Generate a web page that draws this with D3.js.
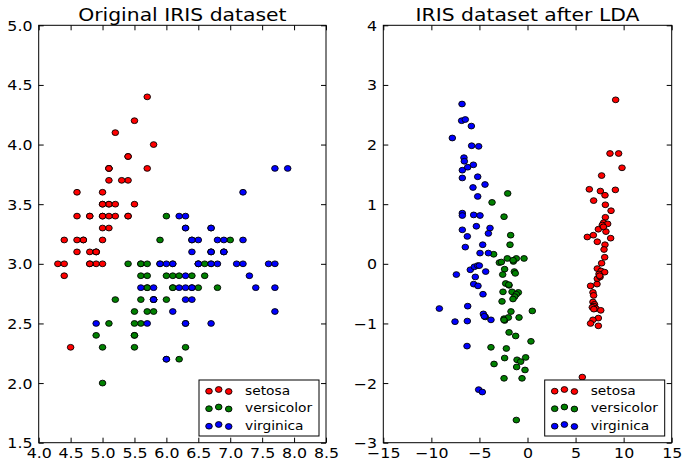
<!DOCTYPE html>
<html>
<head>
<meta charset="utf-8">
<script src="https://cdn.jsdelivr.net/npm/d3@7"></script>
<style>
  body { margin: 0; background: #fff; }
  text { font-family: "DejaVu Sans", sans-serif; fill: #000; }
</style>
</head>
<body>
<div id="main"></div>
<script>
// class names + colours (matplotlib r, g, b)
const targetNames = ["setosa", "versicolor", "virginica"];
const classColors = ["#ff0000", "#008000", "#0000ff"];

// sepal length / sepal width
const sepalSetosa = [[5.1,3.5],[4.9,3.0],[4.7,3.2],[4.6,3.1],[5.0,3.6],[5.4,3.9],[4.6,3.4],[5.0,3.4],[4.4,2.9],[4.9,3.1],
  [5.4,3.7],[4.8,3.4],[4.8,3.0],[4.3,3.0],[5.8,4.0],[5.7,4.4],[5.4,3.9],[5.1,3.5],[5.7,3.8],[5.1,3.8],
  [5.4,3.4],[5.1,3.7],[4.6,3.6],[5.1,3.3],[4.8,3.4],[5.0,3.0],[5.0,3.4],[5.2,3.5],[5.2,3.4],[4.7,3.2],
  [4.8,3.1],[5.4,3.4],[5.2,4.1],[5.5,4.2],[4.9,3.1],[5.0,3.2],[5.5,3.5],[4.9,3.1],[4.4,3.0],[5.1,3.4],
  [5.0,3.5],[4.5,2.3],[4.4,3.2],[5.0,3.5],[5.1,3.8],[4.8,3.0],[5.1,3.8],[4.6,3.2],[5.3,3.7],[5.0,3.3]];
const sepalVersicolor = [[7.0,3.2],[6.4,3.2],[6.9,3.1],[5.5,2.3],[6.5,2.8],[5.7,2.8],[6.3,3.3],[4.9,2.4],[6.6,2.9],[5.2,2.7],
  [5.0,2.0],[5.9,3.0],[6.0,2.2],[6.1,2.9],[5.6,2.9],[6.7,3.1],[5.6,3.0],[5.8,2.7],[6.2,2.2],[5.6,2.5],
  [5.9,3.2],[6.1,2.8],[6.3,2.5],[6.1,2.8],[6.4,2.9],[6.6,3.0],[6.8,2.8],[6.7,3.0],[6.0,2.9],[5.7,2.6],
  [5.5,2.4],[5.5,2.4],[5.8,2.7],[6.0,2.7],[5.4,3.0],[6.0,3.4],[6.7,3.1],[6.3,2.3],[5.6,3.0],[5.5,2.5],
  [5.5,2.6],[6.1,3.0],[5.8,2.6],[5.0,2.3],[5.6,2.7],[5.7,3.0],[5.7,2.9],[6.2,2.9],[5.1,2.5],[5.7,2.8]];
const sepalVirginica = [[6.3,3.3],[5.8,2.7],[7.1,3.0],[6.3,2.9],[6.5,3.0],[7.6,3.0],[4.9,2.5],[7.3,2.9],[6.7,2.5],[7.2,3.6],
  [6.5,3.2],[6.4,2.7],[6.8,3.0],[5.7,2.5],[5.8,2.8],[6.4,3.2],[6.5,3.0],[7.7,3.8],[7.7,2.6],[6.0,2.2],
  [6.9,3.2],[5.6,2.8],[7.7,2.8],[6.3,2.7],[6.7,3.3],[7.2,3.2],[6.2,2.8],[6.1,3.0],[6.4,2.8],[7.2,3.0],
  [7.4,2.8],[7.9,3.8],[6.4,2.8],[6.3,2.8],[6.1,2.6],[7.7,3.0],[6.3,3.4],[6.4,3.1],[6.0,3.0],[6.9,3.1],
  [6.7,3.1],[6.9,3.1],[5.8,2.7],[6.8,3.2],[6.7,3.3],[6.7,3.0],[6.3,2.5],[6.5,3.0],[6.2,3.4],[5.9,3.0]];

// LDA components
const ldaSetosa = [[9.17,2.75],[8.58,1.85],[9.48,1.85],[9.83,1.61],[7.71,1.48],[6.43,1.25],[7.58,1.22],[9.14,1.24],[8.06,1.15],[6.88,1.06],
  [8.10,0.99],[8.69,0.89],[8.10,0.78],[7.92,0.69],[8.34,0.67],[7.37,0.58],[7.78,0.65],[8.16,0.54],[6.22,0.45],[6.85,0.48],
  [8.65,0.43],[7.26,0.37],[8.06,0.32],[7.96,0.24],[8.03,0.11],[7.71,0.01],[7.26,-0.08],[7.65,-0.12],[8.03,-0.14],[7.44,-0.17],
  [7.26,-0.25],[7.55,-0.22],[7.23,-0.34],[6.56,-0.37],[6.81,-0.48],[6.88,-0.53],[6.81,-0.64],[6.97,-0.68],[6.92,-0.71],[7.13,-0.75],
  [7.62,-0.78],[6.74,-0.73],[7.37,-0.91],[6.81,-0.94],[6.56,-1.00],[7.37,-1.04],[5.70,-1.90],[7.50,-0.20],[7.90,0.62],[6.90,-0.76]];
const ldaVersicolor = [[-2.06,1.18],[-3.69,1.03],[-2.44,0.79],[-1.75,0.48],[-1.82,0.32],[-3.52,0.16],[-2.93,0.02],[-2.72,0.03],[-2.10,0.09],[-1.47,0.04],
  [-1.16,0.09],[-0.36,0.09],[-2.38,-0.09],[-2.58,-0.18],[-1.37,-0.13],[-1.27,-0.16],[-2.27,-0.33],[-1.92,-0.36],[-1.61,-0.47],[-0.95,-0.48],
  [-1.16,-0.51],[-1.33,-0.55],[-1.51,-0.59],[-2.55,-0.47],[-2.65,-0.63],[-1.72,-0.80],[0.50,-0.79],[-0.88,-0.90],[-2.44,-0.92],[-2.38,-0.95],
  [-1.99,-0.90],[-4.39,-0.89],[-1.92,-1.15],[-1.23,-1.21],[0.36,-1.30],[-3.80,-1.40],[-2.20,-1.42],[-3.48,-1.68],[-2.38,-1.58],[-1.09,-1.61],
  [-0.71,-1.64],[-0.19,-1.57],[-1.13,-1.73],[-0.26,-1.78],[-2.44,-1.92],[-0.57,-1.92],[-1.16,-2.62],[-2.45,-0.94],[-1.50,0.06],[-1.95,-0.35]];
const ldaVirginica = [[-6.81,2.68],[-6.85,2.40],[-6.47,2.42],[-5.84,2.31],[-7.82,2.11],[-5.81,1.98],[-5.08,1.97],[-6.61,1.78],[-6.57,1.72],[-6.78,1.57],
  [-6.22,1.62],[-5.63,1.66],[-6.78,1.44],[-5.18,1.46],[-4.42,1.33],[-5.67,1.28],[-5.18,1.13],[-6.78,0.85],[-6.78,0.81],[-5.60,0.82],
  [-4.94,0.81],[-5.32,0.63],[-3.90,0.60],[-4.07,0.51],[-6.78,0.57],[-6.26,0.46],[-6.47,0.28],[-4.66,0.32],[-4.94,0.18],[-4.07,0.18],
  [-7.40,-0.18],[-5.95,-0.10],[-5.53,-0.05],[-5.18,-0.03],[-5.01,-0.03],[-4.35,-0.13],[-5.43,-0.22],[-5.60,-0.34],[-5.15,-0.37],[-4.63,-0.51],
  [-9.17,-0.75],[-6.22,-0.71],[-4.59,-0.84],[-4.49,-0.88],[-3.80,-0.94],[-7.54,-0.97],[-6.26,-0.96],[-6.29,-1.38],[-5.08,-2.11],[-4.70,-2.15]];

const sepalXTicks = [4.0, 4.5, 5.0, 5.5, 6.0, 6.5, 7.0, 7.5, 8.0, 8.5];
const sepalYTicks = [1.5, 2.0, 2.5, 3.0, 3.5, 4.0, 4.5, 5.0];
const ldaXTicks = [-15, -10, -5, 0, 5, 10, 15];
const ldaYTicks = [-3, -2, -1, 0, 1, 2, 3, 4];

const STRETCH = 1.13;   // text is a bit wide in the reference
const TICK = 5;

const svg = d3.select("#main").append("svg")
    .attr("width", 682).attr("height", 461);
svg.append("rect").attr("width", 682).attr("height", 461).attr("fill", "#fff");

function drawPanel(opts) {
    const x = d3.scaleLinear().domain(opts.xDomain).range([opts.left, opts.right]);
    const y = d3.scaleLinear().domain(opts.yDomain).range([442.7, 25.3]);
    const g = svg.append("g");

    // points, class by class
    opts.series.forEach((pts, i) => {
        g.append("g").selectAll("ellipse")
            .data(pts).enter()
            .append("ellipse")
            .attr("cx", d => x(d[0]))
            .attr("cy", d => y(d[1]))
            .attr("rx", 3.3).attr("ry", 2.9)
            .attr("fill", classColors[i])
            .attr("stroke", "#000").attr("stroke-width", 0.9);
    });

    // inward ticks on all four sides
    const bottom = g.append("g").attr("transform", `translate(0,${y.range()[0]})`)
        .call(d3.axisBottom(x).tickValues(opts.xTicks).tickFormat(opts.fmtX).tickSizeInner(-TICK).tickSizeOuter(0));
    const left = g.append("g").attr("transform", `translate(${opts.left},0)`)
        .call(d3.axisLeft(y).tickValues(opts.yTicks).tickFormat(opts.fmtY).tickSizeInner(-TICK).tickSizeOuter(0));
    g.append("g").attr("transform", `translate(0,${y.range()[1]})`)
        .call(d3.axisTop(x).tickValues(opts.xTicks).tickFormat("").tickSizeInner(-TICK).tickSizeOuter(0));
    g.append("g").attr("transform", `translate(${opts.right},0)`)
        .call(d3.axisRight(y).tickValues(opts.yTicks).tickFormat("").tickSizeInner(-TICK).tickSizeOuter(0));
    g.selectAll(".domain").remove();
    g.selectAll(".tick line").attr("stroke", "#000").attr("stroke-width", 1);

    bottom.selectAll("text")
        .attr("y", 15).attr("dy", null)
        .attr("font-size", 14).attr("font-family", "DejaVu Sans")
        .attr("transform", `scale(${STRETCH},1)`);
    left.selectAll("text")
        .attr("x", -5.5).attr("dy", "0.36em")
        .attr("font-size", 14).attr("font-family", "DejaVu Sans")
        .attr("transform", `scale(${STRETCH},1)`);

    // frame
    g.append("rect")
        .attr("x", opts.left).attr("y", 25.3)
        .attr("width", opts.right - opts.left).attr("height", 442.7 - 25.3)
        .attr("fill", "none").attr("stroke", "#000").attr("stroke-width", 1);

    // title
    g.append("text")
        .attr("transform", `translate(${(opts.left + opts.right) / 2},20.5) scale(${STRETCH},1)`)
        .attr("text-anchor", "middle")
        .attr("font-size", 18)
        .text(opts.title);

    // legend, three scatter points per entry
    const lx = opts.right - 127;
    const leg = g.append("g").attr("transform", `translate(${lx},380)`);
    leg.append("rect")
        .attr("width", 120).attr("height", 56)
        .attr("fill", "#fff").attr("stroke", "#000").attr("stroke-width", 1);
    const rowY = [10.5, 28, 45.5];
    const dotDx = [10, 19.7, 29.7];
    const dotDy = [0.7, -1, 1];
    targetNames.forEach((name, i) => {
        leg.append("g").selectAll("ellipse")
            .data(dotDx).enter()
            .append("ellipse")
            .attr("cx", d => d)
            .attr("cy", (d, j) => rowY[i] + dotDy[j])
            .attr("rx", 3.3).attr("ry", 2.9)
            .attr("fill", classColors[i])
            .attr("stroke", "#000").attr("stroke-width", 0.9);
        leg.append("text")
            .attr("transform", `translate(46,${rowY[i] + 4}) scale(${STRETCH},1)`)
            .attr("font-size", 12.2)
            .text(name);
    });
}

drawPanel({
    left: 38.7, right: 326,
    xDomain: [4.0, 8.5], yDomain: [1.5, 5.0],
    xTicks: sepalXTicks, yTicks: sepalYTicks,
    fmtX: d3.format(".1f"), fmtY: d3.format(".1f"),
    title: "Original IRIS dataset",
    series: [sepalSetosa, sepalVersicolor, sepalVirginica]
});

drawPanel({
    left: 383.3, right: 671.7,
    xDomain: [-15, 15], yDomain: [-3, 4],
    xTicks: ldaXTicks, yTicks: ldaYTicks,
    fmtX: d3.format("d"), fmtY: d3.format("d"),
    title: "IRIS dataset after LDA",
    series: [ldaSetosa, ldaVersicolor, ldaVirginica]
});
</script>
</body>
</html>
